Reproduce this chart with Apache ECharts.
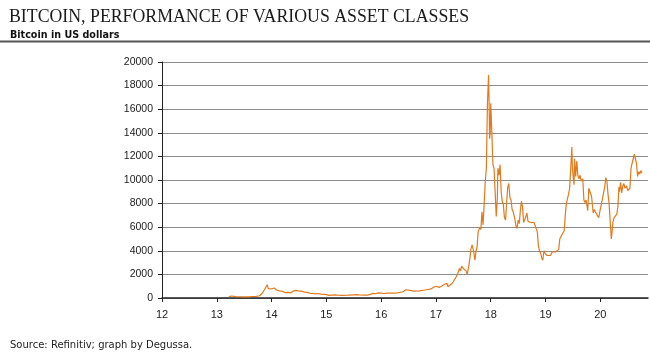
<!DOCTYPE html>
<html>
<head>
<meta charset="utf-8">
<script src="https://cdn.jsdelivr.net/npm/echarts@6/dist/echarts.min.js"></script>
<style>
  html, body { margin: 0; padding: 0; background: #fff; }
  #main { width: 650px; height: 352px; }
</style>
</head>
<body>
<div id="main"></div>
<script>
// x values are years as 12 = 2012, 13.5 = mid 2013 ...
const years = [
  13.22, 13.27, 13.30, 13.35, 13.42, 13.50, 13.58, 13.65, 13.72, 13.78, 13.83, 13.87, 13.92, 13.94, 13.97,
  14.00, 14.05, 14.10, 14.15, 14.20, 14.25, 14.30, 14.35, 14.40, 14.45, 14.50, 14.55, 14.60, 14.65, 14.70,
  14.75, 14.80, 14.85, 14.90, 14.95, 15.00, 15.05, 15.10, 15.15, 15.20, 15.30, 15.40, 15.50, 15.55, 15.60,
  15.70, 15.75, 15.80, 15.85, 15.90, 15.95, 16.00, 16.05, 16.10, 16.20, 16.30, 16.40, 16.45, 16.48, 16.55,
  16.60, 16.70, 16.80, 16.85, 16.90, 16.95, 17.00, 17.02, 17.06, 17.10, 17.15, 17.18, 17.20, 17.22, 17.25,
  17.30, 17.33, 17.37, 17.40, 17.43, 17.45, 17.47, 17.50, 17.53, 17.55, 17.57, 17.60, 17.62, 17.64, 17.66,
  17.69, 17.71, 17.73, 17.75, 17.77, 17.80, 17.82, 17.84, 17.86, 17.88, 17.90, 17.92, 17.94, 17.96, 17.97,
  17.98, 17.99, 18.00, 18.02, 18.04, 18.06, 18.08, 18.10, 18.12, 18.13, 18.15, 18.17, 18.19, 18.21, 18.23,
  18.25, 18.27, 18.29, 18.31, 18.33, 18.35, 18.37, 18.39, 18.41, 18.44, 18.46, 18.48, 18.50, 18.52, 18.54,
  18.56, 18.58, 18.60, 18.62, 18.64, 18.66, 18.68, 18.70, 18.73, 18.76, 18.79, 18.82, 18.85, 18.87, 18.89,
  18.91, 18.93, 18.95, 18.97, 18.99, 19.01, 19.03, 19.06, 19.09, 19.12, 19.15, 19.18, 19.21, 19.24, 19.26,
  19.28, 19.31, 19.34, 19.36, 19.38, 19.40, 19.42, 19.44, 19.46, 19.48, 19.49, 19.50, 19.52, 19.53, 19.55,
  19.57, 19.59, 19.61, 19.63, 19.65, 19.68, 19.70, 19.72, 19.74, 19.77, 19.79, 19.81, 19.84, 19.87, 19.89,
  19.91, 19.94, 19.97, 19.99, 20.01, 20.03, 20.05, 20.08, 20.10, 20.12, 20.14, 20.16, 20.19, 20.20, 20.21,
  20.23, 20.25, 20.27, 20.30, 20.32, 20.34, 20.35, 20.37, 20.39, 20.41, 20.43, 20.45, 20.48, 20.50, 20.52,
  20.54, 20.56, 20.58, 20.60, 20.62, 20.64, 20.66, 20.68, 20.70, 20.72, 20.74, 20.76
]
const prices = [
  95, 170, 110, 120, 105, 90, 100, 125, 140, 190, 400, 700, 1130, 800, 700,
  780, 850, 650, 600, 560, 450, 480, 440, 600, 640, 590, 580, 500, 480, 400,
  380, 350, 380, 330, 310, 280, 220, 250, 270, 250, 230, 240, 270, 280, 260,
  240, 250, 310, 390, 360, 430, 420, 380, 420, 410, 440, 530, 700, 650, 620,
  580, 600, 680, 720, 750, 900, 1000, 900, 900, 1000, 1150, 1050, 1250, 950, 1100,
  1250, 1400, 1800, 2100, 2500, 2300, 2700, 2500, 2500, 2300, 2000, 2700, 3400, 4200, 4500,
  3900, 3200, 3900, 4300, 5600, 6000, 5800, 7300, 6200, 8000, 9900, 11000, 16500, 18900, 16500,
  13500, 14000, 16500, 14000, 11300, 11000, 9000, 6900, 8400, 11000, 10400, 11300, 9000, 8200, 7900,
  6800, 6600, 8100, 9400, 9700, 8500, 8300, 7500, 7300, 6700, 6100, 5900, 6600, 6300, 7400,
  8200, 7700, 6400, 6500, 6900, 7200, 6500, 6600, 6400, 6500, 6400, 6350, 5600, 4400, 4000,
  3800, 3400, 3200, 4000, 3800, 3900, 3600, 3450, 3600, 3900, 3800, 3900, 4000, 4100, 5000,
  5200, 5300, 5700, 7000, 8000, 7900, 8800, 9300, 11000, 12800, 11000, 10500, 9600, 11800, 10300,
  11600, 10400, 10100, 10400, 9900, 10100, 8300, 8100, 8300, 7400, 9300, 9200, 8600, 7200, 7500,
  7300, 7200, 6800, 7300, 7400, 8200, 8700, 9400, 10200, 9900, 8800, 8000, 7900, 5000, 5400,
  6400, 6800, 6900, 7100, 7700, 9400, 9000, 9800, 8900, 9500, 9700, 9300, 9500, 9100, 9200,
  9300, 11000, 11400, 11800, 12200, 11800, 11400, 10300, 10700, 10500, 10800, 10600
]
const yearTicks = [12, 13, 14, 15, 16, 17, 18, 19, 20]

const chart = echarts.init(document.getElementById('main'))
chart.setOption({
  animation: false,
  title: [
    {
      text: 'BITCOIN, PERFORMANCE OF VARIOUS ASSET CLASSES',
      left: 4, top: 3,
      textStyle: { fontFamily: 'Liberation Serif', fontWeight: 'normal', fontSize: 17.8, color: '#1a1a1a' }
    },
    {
      text: 'Bitcoin in US dollars',
      left: 5, top: 25,
      textStyle: { fontFamily: 'DejaVu Sans', fontWeight: 'bold', fontSize: 9.6, color: '#111' }
    },
    {
      text: 'Source: Refinitiv; graph by Degussa.',
      left: 5, top: 335,
      textStyle: { fontFamily: 'DejaVu Sans', fontWeight: 'normal', fontSize: 10, color: '#222' }
    }
  ],
  graphic: [
    { type: 'rect', shape: { x: 0, y: 40.5, width: 650, height: 2 }, style: { fill: '#555' } }
  ],
  grid: { left: 162, right: 2, top: 62, bottom: 54 },
  xAxis: {
    type: 'value',
    min: 12, max: 20.87, interval: 1,
    axisLine: { lineStyle: { color: '#222', width: 1.5 } },
    axisTick: { show: true, length: 4, customValues: yearTicks, lineStyle: { color: '#222' } },
    axisLabel: {
      customValues: yearTicks,
      formatter: v => Number.isInteger(v) ? String(v) : '',
      fontFamily: 'Liberation Sans', fontSize: 11, color: '#222', margin: 11
    },
    splitLine: { show: false }
  },
  yAxis: {
    type: 'value',
    min: 0, max: 20000, interval: 2000,
    axisLine: { show: true, lineStyle: { color: '#222', width: 1 } },
    axisTick: { show: true, length: 4, lineStyle: { color: '#222' } },
    axisLabel: { formatter: v => String(v), fontFamily: 'Liberation Sans', fontSize: 10.5, color: '#222', margin: 9 },
    splitLine: { show: true, lineStyle: { color: '#8c8c8c', width: 1 } }
  },
  series: [
    {
      type: 'line',
      data: years.map((y, i) => [y, prices[i]]),
      showSymbol: false,
      lineStyle: { color: '#e27a1c', width: 1.2 },
      itemStyle: { color: '#e27a1c' }
    }
  ]
})
</script>
</body>
</html>
